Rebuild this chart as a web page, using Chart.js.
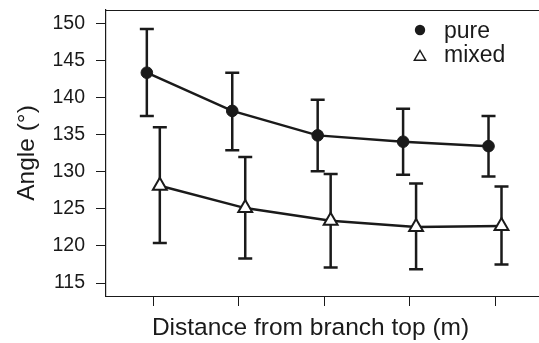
<!DOCTYPE html>
<html>
<head>
<meta charset="utf-8">
<script src="https://cdn.jsdelivr.net/npm/chart.js@4.4.1/dist/chart.umd.min.js"></script>
<style>
  html, body { margin: 0; padding: 0; background: #fff; }
  #wrap { width: 539px; height: 343px; }
</style>
</head>
<body>
<div id="wrap"><canvas id="angleChart" width="539" height="343"></canvas></div>
<script>
// Distance classes along the x axis (no labels printed on the ticks)
const distanceSteps = [1, 2, 3, 4, 5];
const yTickValues = [115, 120, 125, 130, 135, 140, 145, 150];

// Mean angle and error bar ends
const pureMean = [143.35, 138.2, 134.9, 134.05, 133.45];
const pureUpper = [149.25, 143.35, 139.7, 138.5, 137.5];
const pureLower = [137.5, 132.9, 130.05, 129.6, 129.35];

const mixedMean = [128.1, 125.1, 123.4, 122.55, 122.7];
const mixedUpper = [136.0, 132.0, 129.7, 128.4, 128.0];
const mixedLower = [120.4, 118.3, 117.1, 116.85, 117.5];

const dodge = 0.076; // pure drawn left of the tick, mixed right of it
const ink = '#1a1a1a';
const fontFamily = '"Liberation Sans", Arial, Helvetica, sans-serif';

function toPoints(values, shift) {
    return values.map((v, i) => ({ x: distanceSteps[i] + shift, y: v }));
}

// Draw the error bars under the markers
const errorBars = {
    id: 'errorBars',
    beforeDatasetsDraw(chart) {
        const ctx = chart.ctx;
        const xs = chart.scales.x;
        const ys = chart.scales.y;
        const groups = [
            { lo: pureLower, hi: pureUpper, shift: -dodge },
            { lo: mixedLower, hi: mixedUpper, shift: dodge }
        ];
        ctx.save();
        ctx.strokeStyle = ink;
        ctx.lineWidth = 2.5;
        groups.forEach(g => {
            distanceSteps.forEach((d, i) => {
                const px = xs.getPixelForValue(d + g.shift);
                const top = ys.getPixelForValue(g.hi[i]);
                const bot = ys.getPixelForValue(g.lo[i]);
                ctx.beginPath();
                ctx.moveTo(px, top);
                ctx.lineTo(px, bot);
                ctx.moveTo(px - 7, top);
                ctx.lineTo(px + 7, top);
                ctx.moveTo(px - 7, bot);
                ctx.lineTo(px + 7, bot);
                ctx.stroke();
            });
        });
        ctx.restore();
    }
};

// Top and bottom frame lines running to the right edge, and the legend
const frameAndLegend = {
    id: 'frameAndLegend',
    afterDraw(chart) {
        const ctx = chart.ctx;
        const area = chart.chartArea;
        ctx.save();
        ctx.strokeStyle = ink;
        ctx.lineWidth = 1.2;
        ctx.beginPath();
        ctx.moveTo(area.left, area.top + 0.5);
        ctx.lineTo(chart.width, area.top + 0.5);
        ctx.moveTo(area.left, area.bottom + 0.5);
        ctx.lineTo(chart.width, area.bottom + 0.5);
        ctx.stroke();

        // legend
        ctx.fillStyle = ink;
        ctx.beginPath();
        ctx.arc(420, 30, 5.2, 0, Math.PI * 2);
        ctx.fill();

        const r = 6.5;
        ctx.lineWidth = 1.5;
        ctx.beginPath();
        ctx.moveTo(420, 57 - r);
        ctx.lineTo(420 + r * 0.866, 57 + r / 2);
        ctx.lineTo(420 - r * 0.866, 57 + r / 2);
        ctx.closePath();
        ctx.stroke();

        ctx.font = '23px ' + fontFamily;
        ctx.textBaseline = 'alphabetic';
        ctx.textAlign = 'left';
        ctx.fillText(chart.data.datasets[0].label, 444, 38);
        ctx.fillText(chart.data.datasets[1].label, 444, 62);
        ctx.restore();
    }
};

const ctx = document.getElementById('angleChart').getContext('2d');
const angleChart = new Chart(ctx, {
    type: 'line',
    data: {
        datasets: [
            {
                label: 'pure',
                data: toPoints(pureMean, -dodge),
                borderColor: ink,
                borderWidth: 2.5,
                pointStyle: 'circle',
                pointRadius: 5.8,
                pointBorderWidth: 1,
                pointBackgroundColor: ink,
                pointBorderColor: ink,
                fill: false,
                tension: 0
            },
            {
                label: 'mixed',
                data: toPoints(mixedMean, dodge),
                borderColor: ink,
                borderWidth: 2.5,
                pointStyle: 'triangle',
                pointRadius: 8,
                pointBorderWidth: 2,
                pointBackgroundColor: '#ffffff',
                pointBorderColor: ink,
                fill: false,
                tension: 0
            }
        ]
    },
    options: {
        responsive: false,
        animation: false,
        layout: { padding: { top: 9, right: 24, left: 0, bottom: 0 } },
        plugins: {
            legend: { display: false },
            tooltip: { enabled: false }
        },
        scales: {
            x: {
                type: 'linear',
                min: 0.446,
                max: 5.234,
                afterBuildTicks: scale => {
                    scale.ticks = distanceSteps.map(v => ({ value: v }));
                },
                afterFit: scale => {
                    scale.height = 47;
                    scale.paddingLeft = 0;
                    scale.paddingRight = 0;
                },
                ticks: { display: false },
                grid: {
                    display: true,
                    drawOnChartArea: false,
                    drawTicks: true,
                    tickLength: 10,
                    color: ink,
                    lineWidth: 1
                },
                border: { display: false },
                title: {
                    display: true,
                    text: 'Distance from branch top (m)',
                    color: ink,
                    font: { family: fontFamily, size: 24.5 },
                    padding: { top: 0, bottom: 0 }
                }
            },
            y: {
                type: 'linear',
                min: 113.25,
                max: 151.8,
                afterBuildTicks: scale => {
                    scale.ticks = yTickValues.map(v => ({ value: v }));
                },
                afterFit: scale => {
                    scale.width = 106;
                    scale.paddingTop = 0;
                    scale.paddingBottom = 0;
                },
                ticks: {
                    color: ink,
                    padding: 11,
                    font: { family: fontFamily, size: 19.5 }
                },
                grid: {
                    display: true,
                    drawOnChartArea: false,
                    drawTicks: true,
                    tickLength: 10,
                    color: ink,
                    lineWidth: 1
                },
                border: { display: true, color: ink, width: 1.2 },
                title: {
                    display: true,
                    text: 'Angle (°)',
                    color: ink,
                    font: { family: fontFamily, size: 24.5 },
                    padding: { top: 13, bottom: 0 }
                }
            }
        }
    },
    plugins: [errorBars, frameAndLegend]
});
</script>
</body>
</html>
